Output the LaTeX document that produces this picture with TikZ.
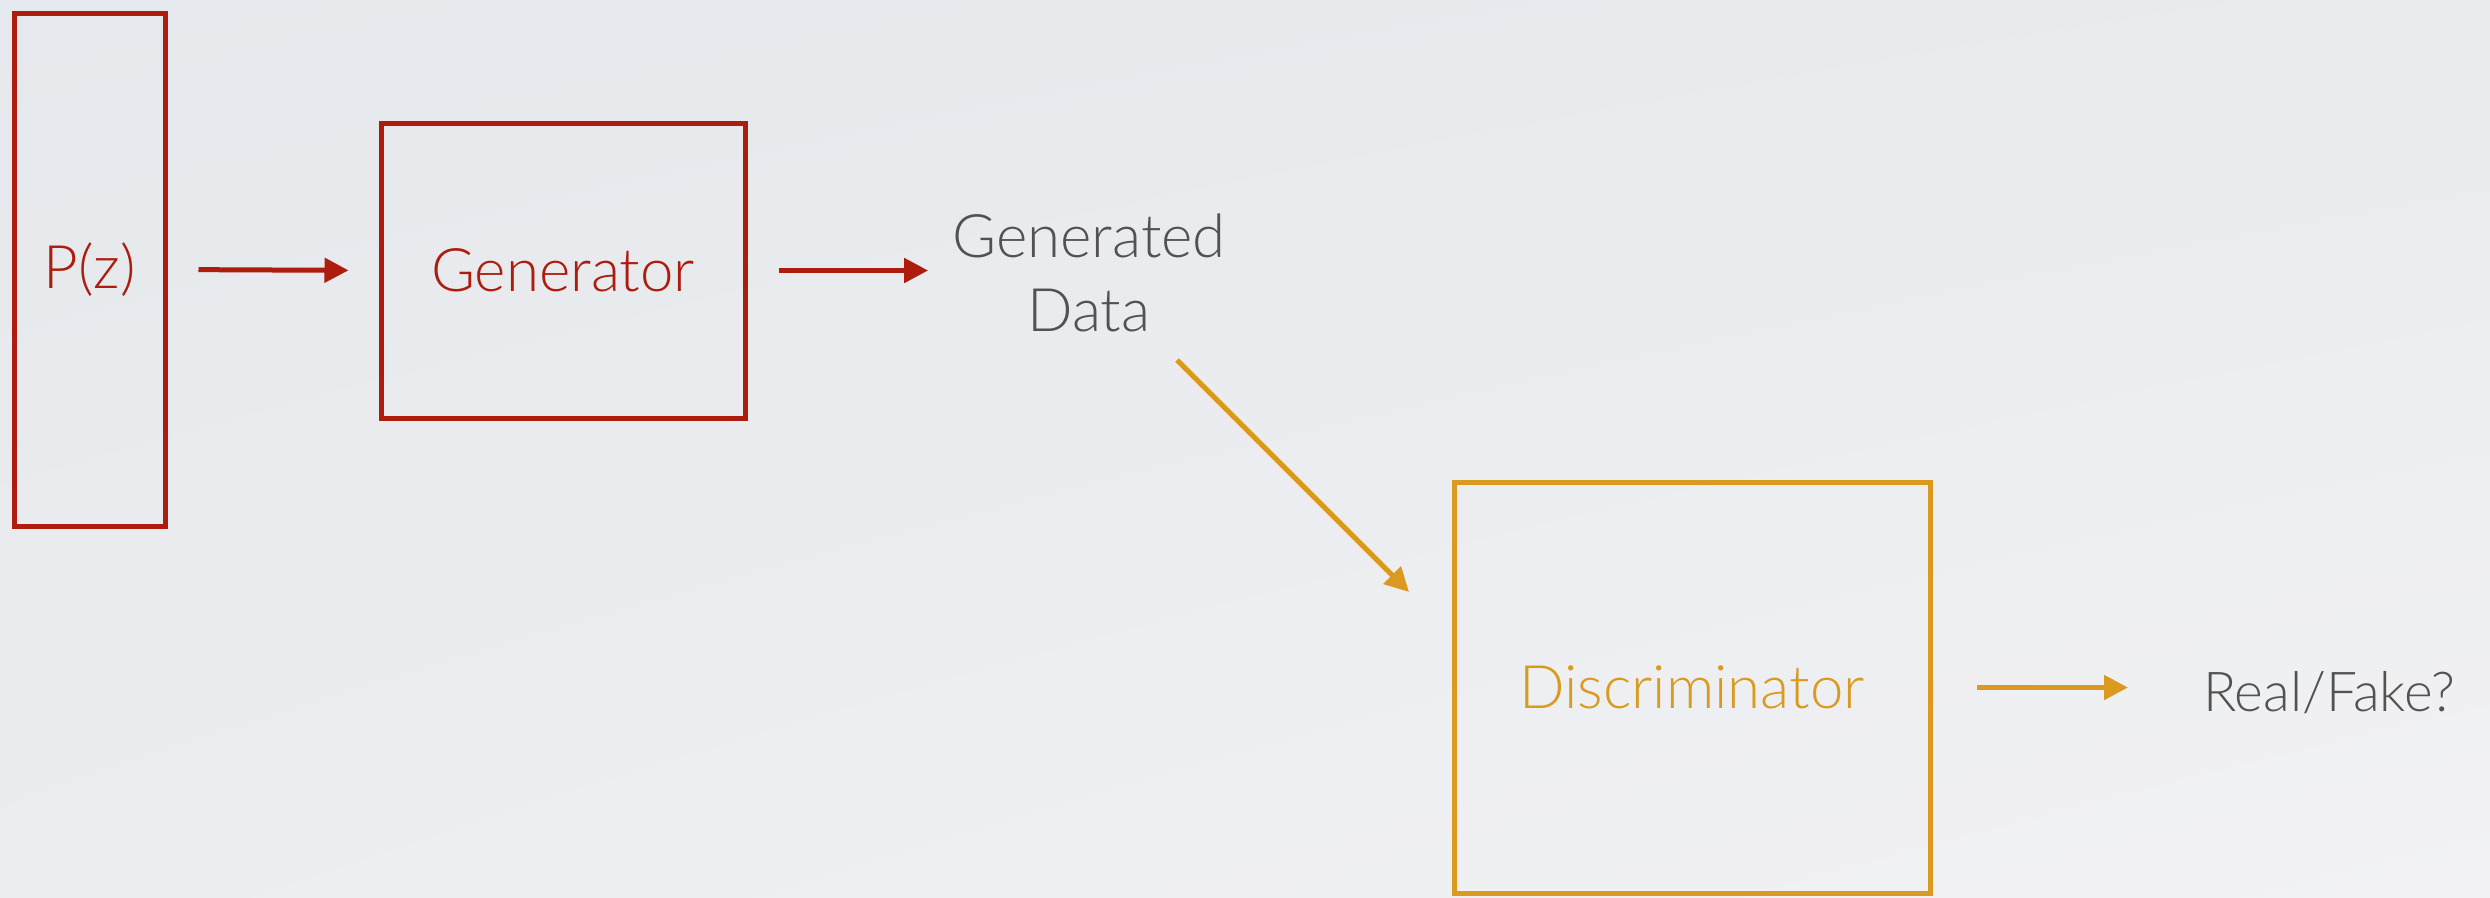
\documentclass[tikz,border=0pt]{standalone}
\usepackage{fontspec}
\setmainfont{Lato Light}
\usetikzlibrary{arrows.meta,shadings}
\definecolor{gred}{HTML}{AD1C0C}
\definecolor{dorange}{HTML}{DA9A20}
\definecolor{tgray}{HTML}{525252}
\definecolor{bgA}{HTML}{E5E8EC}
\definecolor{bgB}{HTML}{F2F2F4}
\tikzset{
  blk/.style={draw, line width=5pt, inner sep=0pt, font=\fontsize{60}{74}\selectfont},
  redblk/.style={blk, draw=gred, text=gred},
  orblk/.style={blk, draw=dorange, text=dorange},
  lbl/.style={text=tgray, font=\fontsize{60}{74}\selectfont, align=center, inner sep=0pt},
  arr/.style={line width=5pt, -{Triangle[length=24pt,width=24pt]}},
}
\begin{document}
\begin{tikzpicture}[x=1pt,y=-1pt]
\shade[upper left=bgA, upper right=bgA!70!bgB, lower left=bgA!50!bgB, lower right=bgB] (0,0) rectangle (2490,897);
\useasboundingbox (0,0) rectangle (2490,897);
\node[redblk, minimum width=151pt, minimum height=513pt] (pz) at (89.5,269.5) {P(z)};
\node[redblk, minimum width=364pt, minimum height=295pt] (gen) at (563,270.5) {Generator};
\node[lbl] (gd) at (1089,273) {Generated\\Data};
\node[orblk, minimum width=476pt, minimum height=411pt] (disc) at (1692,687.5) {\raisebox{-3pt}{Discriminator}};
\node[lbl, anchor=west, font=\fontsize{55}{68}\selectfont] (rf) at (2203,693) {Real/Fake?};
\coordinate (d1) at (1177,360);
\coordinate (d2) at (1409,592);
\draw[arr, gred, shorten <=31pt, shorten >=30pt] (pz.east) -- (gen.west);
\draw[arr, gred, shorten <=31pt, shorten >=24pt] (gen.east) -- (gd.west |- gen.east);
\draw[arr, dorange] (d1) -- (d2);
\draw[arr, dorange, shorten <=44pt, shorten >=75pt] (disc.east) -- (rf.west |- disc.east);
\end{tikzpicture}
\end{document}
